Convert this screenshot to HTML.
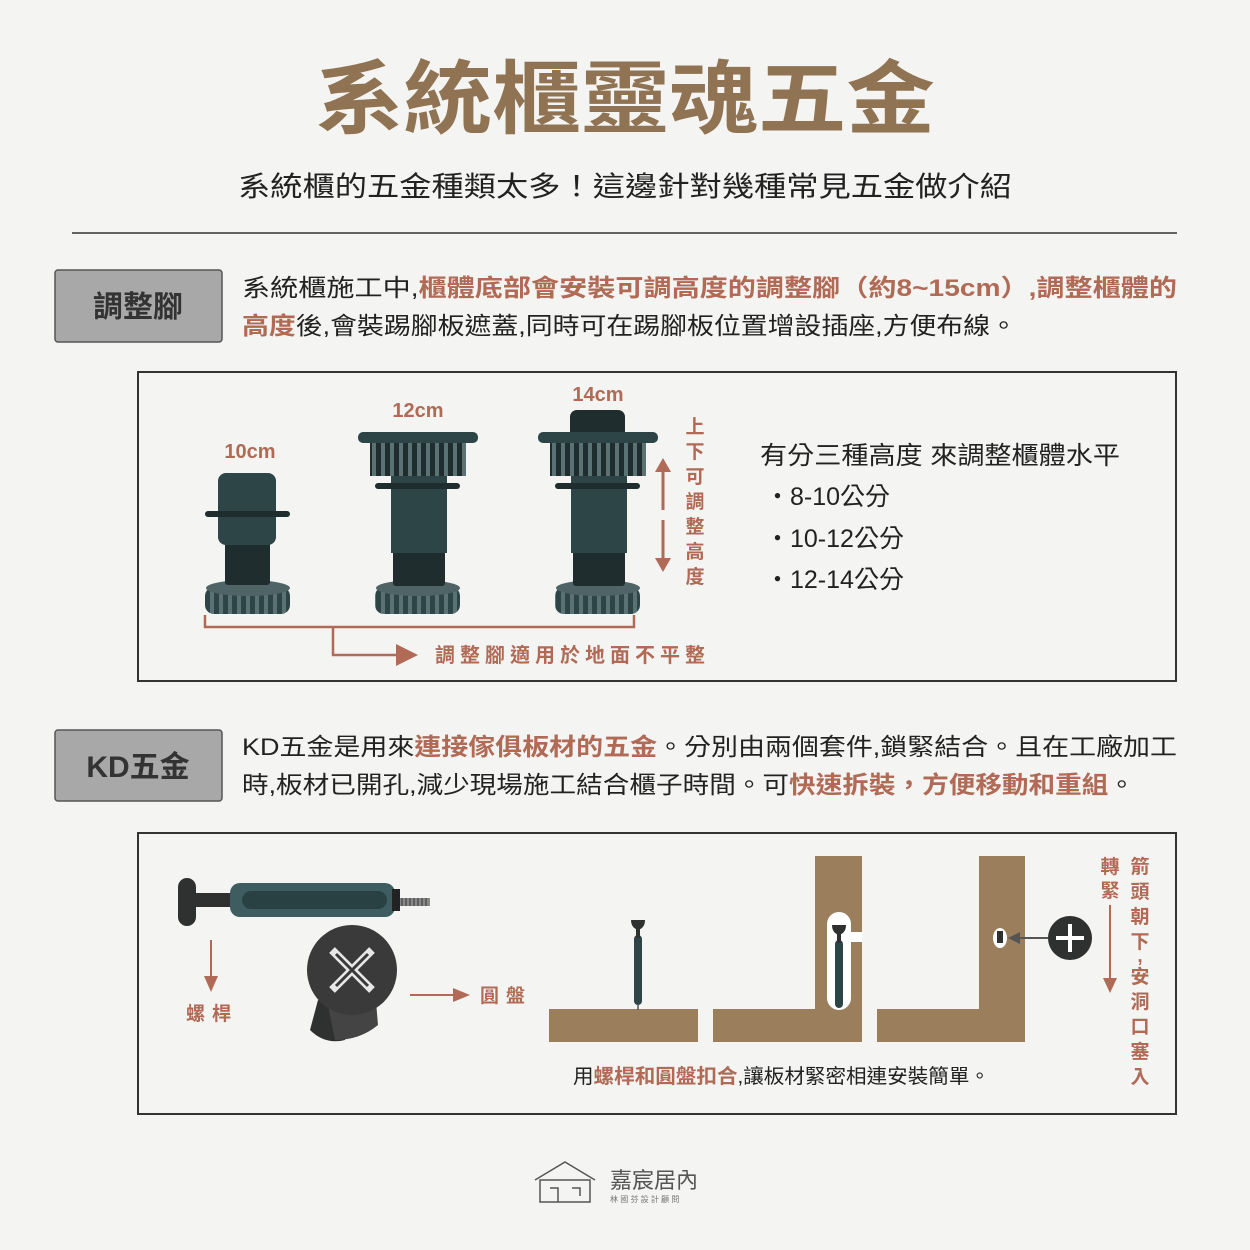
<!DOCTYPE html>
<html><head><meta charset="utf-8"><style>
html,body{margin:0;padding:0;background:#f4f4f2;}
svg{display:block;}
text{font-family:"Liberation Sans","Noto Sans CJK TC",sans-serif;}
</style></head><body>
<svg width="1250" height="1250" viewBox="0 0 1250 1250" xmlns="http://www.w3.org/2000/svg">
<rect width="1250" height="1250" fill="#f4f4f2"/>
<text x="625" y="127" text-anchor="middle" font-size="80" font-weight="bold" fill="#8f7352" textLength="620" lengthAdjust="spacingAndGlyphs">系統櫃靈魂五金</text>
<text x="625" y="196" text-anchor="middle" font-size="28" fill="#222" textLength="774" lengthAdjust="spacingAndGlyphs">系統櫃的五金種類太多！這邊針對幾種常見五金做介紹</text>
<line x1="72" y1="233" x2="1177" y2="233" stroke="#333" stroke-width="1.5"/>

<rect x="55" y="270" width="167" height="72" rx="3" fill="#a8a8a8" stroke="#555" stroke-width="1.5"/>
<text x="138" y="317" text-anchor="middle" font-size="30" font-weight="bold" fill="#333">調整腳</text>
<text x="242" y="296" font-size="24" fill="#222" textLength="935" lengthAdjust="spacingAndGlyphs">系統櫃施工中,<tspan fill="#b06a55" font-weight="bold">櫃體底部會安裝可調高度的調整腳（約8~15cm）,調整櫃體的</tspan></text>
<text x="242" y="334" font-size="24" fill="#222" textLength="775" lengthAdjust="spacingAndGlyphs"><tspan fill="#b06a55" font-weight="bold">高度</tspan>後,會裝踢腳板遮蓋,同時可在踢腳板位置增設插座,方便布線。</text>

<rect x="138" y="372" width="1038" height="309" fill="none" stroke="#333" stroke-width="2"/>
<defs>
<pattern id="st" width="9" height="10" patternUnits="userSpaceOnUse"><rect width="9" height="10" fill="#2e4548"/><rect x="3" width="4" height="10" fill="#5a7274"/></pattern>
<pattern id="gr" width="9" height="10" patternUnits="userSpaceOnUse"><rect width="9" height="10" fill="#1f2d2e"/><rect x="3" width="4" height="10" fill="#5a7274"/></pattern>
</defs>
<!-- foot 1 -->
<g>
<rect x="205" y="587" width="85" height="27" rx="9" fill="url(#st)"/>
<ellipse cx="248" cy="588" rx="42" ry="8" fill="#4e6466"/>
<rect x="225" y="540" width="45" height="45" rx="3" fill="#1f2d2e"/>
<rect x="218" y="473" width="58" height="72" rx="8" fill="#2e4548"/>
<rect x="205" y="511" width="85" height="6" rx="3" fill="#1f2d2e"/>
<text x="250" y="458" text-anchor="middle" font-size="20" font-weight="bold" fill="#b06a55">10cm</text>
</g>
<!-- foot 2 -->
<g>
<rect x="375" y="587" width="85" height="27" rx="9" fill="url(#st)"/>
<ellipse cx="418" cy="588" rx="42" ry="8" fill="#4e6466"/>
<rect x="393" y="550" width="52" height="36" rx="3" fill="#1f2d2e"/>
<rect x="391" y="475" width="56" height="78" fill="#2e4548"/>
<rect x="370" y="443" width="96" height="33" fill="url(#gr)"/>
<rect x="358" y="432" width="120" height="11" rx="5" fill="#2e4548"/>
<rect x="375" y="483" width="85" height="6" rx="3" fill="#1f2d2e"/>
<text x="418" y="417" text-anchor="middle" font-size="20" font-weight="bold" fill="#b06a55">12cm</text>
</g>
<!-- foot 3 -->
<g>
<rect x="555" y="587" width="85" height="27" rx="9" fill="url(#st)"/>
<ellipse cx="598" cy="588" rx="42" ry="8" fill="#4e6466"/>
<rect x="570" y="410" width="55" height="30" rx="7" fill="#1f2d2e"/>
<rect x="573" y="550" width="52" height="36" rx="3" fill="#1f2d2e"/>
<rect x="571" y="475" width="56" height="78" fill="#2e4548"/>
<rect x="550" y="443" width="96" height="33" fill="url(#gr)"/>
<rect x="538" y="432" width="120" height="11" rx="5" fill="#2e4548"/>
<rect x="555" y="483" width="85" height="6" rx="3" fill="#1f2d2e"/>
<text x="598" y="401" text-anchor="middle" font-size="20" font-weight="bold" fill="#b06a55">14cm</text>
</g>
<!-- vertical arrow -->
<line x1="663" y1="468" x2="663" y2="510" stroke="#b06a55" stroke-width="3"/>
<line x1="663" y1="520" x2="663" y2="562" stroke="#b06a55" stroke-width="3"/>
<polygon points="655,472 671,472 663,458" fill="#b06a55"/>
<polygon points="655,558 671,558 663,572" fill="#b06a55"/>
<g font-size="19" font-weight="bold" fill="#b06a55" text-anchor="middle">
<text x="695" y="433">上</text><text x="695" y="458">下</text><text x="695" y="483">可</text><text x="695" y="508">調</text><text x="695" y="533">整</text><text x="695" y="558">高</text><text x="695" y="583">度</text>
</g>
<polyline points="205,615 205,627 634,627 634,615" fill="none" stroke="#b06a55" stroke-width="2.5"/>
<polyline points="333,627 333,655 400,655" fill="none" stroke="#b06a55" stroke-width="2.5"/>
<polygon points="396,644 418,655 396,666" fill="#b06a55"/>
<text x="435" y="662" font-size="20" font-weight="bold" fill="#b06a55" textLength="270" lengthAdjust="spacing">調整腳適用於地面不平整</text>
<text x="760" y="464" font-size="25" fill="#222" textLength="360" lengthAdjust="spacingAndGlyphs">有分三種高度 來調整櫃體水平</text>
<text x="765" y="505" font-size="25" fill="#222">・8-10公分</text>
<text x="765" y="547" font-size="25" fill="#222">・10-12公分</text>
<text x="765" y="588" font-size="25" fill="#222">・12-14公分</text>

<rect x="55" y="730" width="167" height="71" rx="3" fill="#a8a8a8" stroke="#555" stroke-width="1.5"/>
<text x="138" y="777" text-anchor="middle" font-size="30" font-weight="bold" fill="#333">KD五金</text>
<text x="242" y="755" font-size="24" fill="#222" textLength="935" lengthAdjust="spacingAndGlyphs">KD五金是用來<tspan fill="#b06a55" font-weight="bold">連接傢俱板材的五金</tspan>。分別由兩個套件,鎖緊結合。且在工廠加工</text>
<text x="242" y="793" font-size="24" fill="#222" textLength="893" lengthAdjust="spacingAndGlyphs">時,板材已開孔,減少現場施工結合櫃子時間。可<tspan fill="#b06a55" font-weight="bold">快速拆裝，方便移動和重組</tspan>。</text>

<rect x="138" y="833" width="1038" height="281" fill="none" stroke="#333" stroke-width="2"/>
<!-- bolt -->
<rect x="178" y="878" width="18" height="48" rx="9" fill="#2f3030"/>
<rect x="190" y="893" width="45" height="14" fill="#2f3030"/>
<rect x="230" y="883" width="165" height="34" rx="10" fill="#3e5d60"/>
<rect x="242" y="891" width="145" height="18" rx="9" fill="#2a4144"/>
<rect x="392" y="889" width="8" height="22" fill="#222"/>
<rect x="400" y="898" width="30" height="8" fill="#888"/>
<path d="M402 898v8M406 898v8M410 898v8M414 898v8M418 898v8M422 898v8M426 898v8" stroke="#333" stroke-width="1"/>
<line x1="211" y1="940" x2="211" y2="978" stroke="#b06a55" stroke-width="2"/>
<polygon points="204,976 218,976 211,992" fill="#b06a55"/>
<text x="186" y="1020" font-size="19" font-weight="bold" fill="#b06a55" textLength="45" lengthAdjust="spacing">螺桿</text>
<!-- cam -->
<path d="M318 1000 L310 1030 Q325 1045 345 1040 L350 1010 Z" fill="#2f3030"/>
<path d="M325 990 L335 1040 Q360 1040 378 1025 L375 990 Z" fill="#444"/>
<circle cx="352" cy="970" r="45" fill="#3a3a3a"/>
<path d="M332 950 L372 990 M372 950 L332 990" stroke="#e8e8e8" stroke-width="8"/>
<path d="M336 954 L368 986 M368 954 L336 986" stroke="#3a3a3a" stroke-width="3"/>
<line x1="410" y1="995" x2="455" y2="995" stroke="#b06a55" stroke-width="2"/>
<polygon points="453,988 470,995 453,1002" fill="#b06a55"/>
<text x="480" y="1002" font-size="19" font-weight="bold" fill="#b06a55" textLength="45" lengthAdjust="spacing">圓盤</text>
<!-- wood -->
<g fill="#9b7f5c">
<rect x="549" y="1009" width="149" height="33"/>
<rect x="713" y="1009" width="149" height="33"/>
<rect x="815" y="856" width="47" height="186"/>
<rect x="877" y="1009" width="148" height="33"/>
<rect x="979" y="856" width="46" height="186"/>
</g>
<rect x="634" y="935" width="8" height="70" rx="4" fill="#2e4548"/>
<line x1="638" y1="1004" x2="638" y2="1010" stroke="#555" stroke-width="1.5"/>
<path d="M631 920 h14 q0 8 -7 10 q-7 -2 -7 -10z" fill="#2f3030"/>
<rect x="636" y="928" width="4" height="10" fill="#2f3030"/>
<rect x="827" y="912" width="24" height="98" rx="12" fill="#fff"/>
<rect x="850" y="932" width="12" height="10" fill="#fff"/>
<rect x="835" y="940" width="8" height="68" rx="4" fill="#2e4548"/>
<path d="M832 925 h14 q0 8 -7 10 q-7 -2 -7 -10z" fill="#2f3030"/>
<rect x="837" y="933" width="4" height="10" fill="#2f3030"/>
<ellipse cx="1000" cy="938" rx="7" ry="10" fill="#fff"/>
<rect x="997" y="931" width="6" height="12" fill="#2f3030"/>
<line x1="1012" y1="938" x2="1048" y2="938" stroke="#555" stroke-width="2"/>
<polygon points="1020,932 1008,938 1020,944" fill="#555"/>
<circle cx="1070" cy="938" r="22" fill="#2f3030"/>
<path d="M1070 924v28M1056 938h28" stroke="#fff" stroke-width="4"/>
<text x="1110" y="873" font-size="19" font-weight="bold" fill="#b06a55" text-anchor="middle">轉</text>
<text x="1110" y="897" font-size="19" font-weight="bold" fill="#b06a55" text-anchor="middle">緊</text>
<line x1="1110" y1="905" x2="1110" y2="980" stroke="#b06a55" stroke-width="2"/>
<polygon points="1103,978 1117,978 1110,993" fill="#b06a55"/>
<g font-size="19" font-weight="bold" fill="#b06a55" text-anchor="middle">
<text x="1140" y="873">箭</text><text x="1140" y="898">頭</text><text x="1140" y="923">朝</text><text x="1140" y="948">下</text><text x="1140" y="962">,</text><text x="1140" y="983">安</text><text x="1140" y="1008">洞</text><text x="1140" y="1033">口</text><text x="1140" y="1058">塞</text><text x="1140" y="1083">入</text>
</g>
<text x="573" y="1083" font-size="20" fill="#222" textLength="417" lengthAdjust="spacingAndGlyphs">用<tspan fill="#b06a55" font-weight="bold">螺桿和圓盤扣合</tspan>,讓板材緊密相連安裝簡單。</text>
<!-- logo -->
<g stroke="#555" fill="none" stroke-width="1.5">
<path d="M535 1180 L565 1162 L595 1180"/>
<rect x="540" y="1180" width="50" height="22"/>
<path d="M550 1188h8v14M572 1188h8v8"/>
</g>
<text x="610" y="1188" font-size="22" fill="#555">嘉宸居內</text>
<text x="610" y="1202" font-size="8" fill="#777">林 國 芬 設 計 顧 問</text>
</svg>
</body></html>
